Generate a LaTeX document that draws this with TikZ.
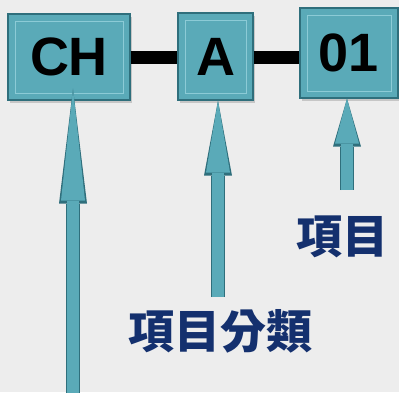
\documentclass[tikz,border=0pt]{standalone}
\usepackage{fontspec}
\setmainfont{Liberation Sans}
\newfontfamily\cjk{Noto Sans CJK TC}
\usepackage{tikz}
\usetikzlibrary{arrows.meta,positioning,shadows}
\definecolor{boxteal}{HTML}{5AAAB8}
\definecolor{boxdark}{HTML}{2F6F7C}
\definecolor{boxlight}{HTML}{8CCBD6}
\definecolor{labelnavy}{HTML}{14306E}
\definecolor{bggray}{HTML}{EDEDED}

\begin{document}
\begin{tikzpicture}
[x=1pt,y=-1pt,
codebox/.style={rectangle,draw=boxdark,fill=boxteal,line width=1.2pt,inner sep=0pt,
  drop shadow={opacity=0.35,shadow xshift=2pt,shadow yshift=-3pt},
  font=\fontsize{54}{58}\bfseries\selectfont,
  path picture={\draw[boxlight,line width=1pt]
    ([shift={(7pt,-7pt)}]path picture bounding box.north west) rectangle
    ([shift={(-7pt,7pt)}]path picture bounding box.south east);}},
joinbar/.style={draw=black,line width=13pt},
uparrow/.style={draw=boxteal,line width=12pt,-{Triangle[width=24pt,length=#1,line width=0pt]},
  preaction={draw=boxdark,line width=14.5pt,-{Triangle[width=28pt,length=#1+3pt,line width=0pt]}}},
partlabel/.style={text=labelnavy,font=\cjk\fontsize{46}{50}\bfseries\selectfont,inner sep=0pt}]
\fill[bggray] (0,0) rectangle (399,392);
\useasboundingbox (0,0) rectangle (399,392);

\node[codebox,minimum width=122pt,minimum height=86pt] (ch) at (69,57) {CH};
\node[codebox,minimum width=75pt,minimum height=87pt] (a) at (215.5,56.5) {A};
\node[codebox,minimum width=98pt,minimum height=90pt] (b) at (349,53) {01};

\node[partlabel] (grouplabel) at (220,331) {項目分類};
\node[partlabel] (itemlabel) at (342,237) {項目};

\coordinate (chtail) at (73,400);
\coordinate (atail) at (218,297);
\coordinate (btail) at (347,190);

\draw[joinbar] (ch.east |- 0,57) -- (a.west |- 0,57);
\draw[joinbar] (a.east |- 0,57) -- (b.west |- 0,57);

\draw[uparrow=112pt] (chtail) -- ([yshift=12pt]chtail |- ch.south);
\draw[uparrow=72pt] (atail) -- (atail |- a.south);
\draw[uparrow=45pt] (btail) -- (btail |- b.south);
\end{tikzpicture}
\end{document}
